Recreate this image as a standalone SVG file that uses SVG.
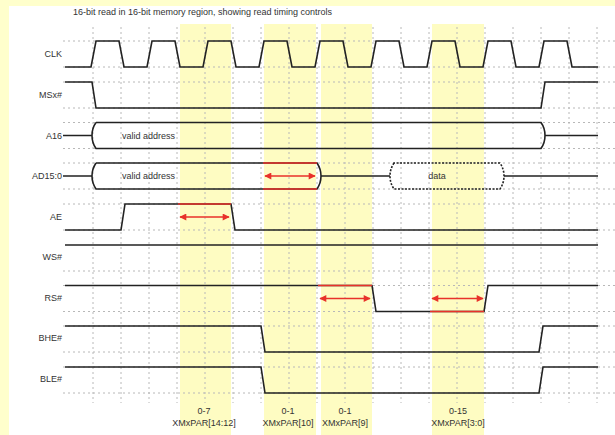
<svg xmlns="http://www.w3.org/2000/svg" width="615" height="435" viewBox="0 0 615 435">
<defs>
<style>
.lbl{font-family:"Liberation Sans",Arial,sans-serif;font-size:9px;fill:#333}
.end{text-anchor:end}
.mid{text-anchor:middle}
.sig{fill:none;stroke:#222;stroke-width:1.6;stroke-linejoin:miter}
.red{fill:none;stroke:#e8322a;stroke-width:1.6}
.arr{fill:none;stroke:#e8322a;stroke-width:1.6;marker-start:url(#ah);marker-end:url(#ah)}
.grid{fill:none;stroke:#b8b8b8;stroke-width:1;stroke-dasharray:2,3}
.band{fill:#fefcc2}
</style>
<marker id="ah" viewBox="0 0 10 10" refX="9" refY="5" markerWidth="9" markerHeight="7" markerUnits="userSpaceOnUse" orient="auto-start-reverse">
<path d="M0,0 L10,5 L0,10 Z" fill="#e8322a"/>
</marker>
</defs>
<rect x="0" y="0" width="615" height="435" fill="#ffffcc"/>
<rect x="9" y="6" width="606" height="429" fill="#ffffff"/>
<g id="bands">
<rect class="band" x="180" y="24" width="51" height="411"/>
<rect class="band" x="264" y="24" width="52" height="411"/>
<rect class="band" x="321" y="24" width="51" height="411"/>
<rect class="band" x="432" y="24" width="52" height="411"/>
</g>
<g id="grid">
<path class="grid" d="M93,27V403M121,27V403M149,27V403M177,27V403M205,27V403M233,27V403M261,27V403M289,27V403M317,27V403M345,27V403M373,27V403M401,27V403M429,27V403M457,27V403M485,27V403M513,27V403M541,27V403M569,27V403M597,27V403"/>
<path class="grid" d="M63,41H615M63,67H615M63,82H615M63,108H615M63,122.5H615M63,148.5H615M63,163H615M63,189H615M63,204H615M63,230H615M63,271H615M63,285.5H615M63,311.5H615M63,326H615M63,352H615M63,367H615M63,393H615"/>
</g>
<text class="lbl" x="73" y="15">16-bit read in 16-bit memory region, showing read timing controls</text>
<g id="CLK">
<text class="lbl end" x="62" y="57">CLK</text>
<path class="sig" d="M65,67 H91 L96,41 H119 L124,67 H147 L152,41 H175 L180,67 H203 L208,41 H231 L236,67 H259 L264,41 H287 L292,67 H315 L320,41 H343 L348,67 H371 L376,41 H399 L404,67 H427 L432,41 H455 L460,67 H483 L488,41 H511 L516,67 H539 L544,41 H567 L572,67 H598"/>
</g>
<g id="MSx">
<text class="lbl end" x="62" y="98">MSx#</text>
<path class="sig" d="M65,82 H92 L96,108 H541 L545,82 H598"/>
</g>
<g id="A16">
<text class="lbl end" x="62" y="138.5">A16</text>
<path class="sig" d="M63,135.5 H92 M96,122.5 Q92,128 92,135.5 Q92,143 96,148.5 H541 Q545,143 545,135.5 Q545,128 541,122.5 H96 M545,135.5 H598"/>
<text class="lbl" x="122" y="138.5">valid address</text>
</g>
<g id="AD15_0">
<text class="lbl end" x="62" y="179">AD15:0</text>
<path class="sig" d="M63,176 H92 M96,163 Q92,169 92,176 Q92,183 96,189 H317 Q321,183 321,176 Q321,169 317,163 H96 M321,176 H390 M504,176 H598"/>
<path class="sig" stroke-dasharray="2,1.5" d="M394,163 Q390,169 390,176 Q390,183 394,189 H500 Q504,183 504,176 Q504,169 500,163 Z"/>
<path class="red" d="M263,163 H317 M263,189 H317"/>
<text class="lbl" x="122" y="179">valid address</text>
<text class="lbl mid" x="437" y="179">data</text>
</g>
<g id="AE">
<text class="lbl end" x="62" y="220">AE</text>
<path class="sig" d="M65,230 H121 L125,204 H231 L235,230 H598"/>
<path class="red" d="M178,204 H231"/>
</g>
<g id="WS">
<text class="lbl end" x="62" y="260">WS#</text>
<path class="sig" d="M65,245 H598"/>
</g>
<g id="RS">
<text class="lbl end" x="62" y="301">RS#</text>
<path class="sig" d="M65,285.5 H372 L376,311.5 H484 L488,285.5 H598"/>
<path class="red" d="M318,285.5 H372 M430,311.5 H484"/>
</g>
<g id="BHE">
<text class="lbl end" x="62" y="341">BHE#</text>
<path class="sig" d="M65,326 H261 L265,352 H539 L543,326 H598"/>
</g>
<g id="BLE">
<text class="lbl end" x="62" y="382">BLE#</text>
<path class="sig" d="M65,367 H261 L265,393 H539 L543,367 H598"/>
</g>
<g id="connectors">
<line class="arr" x1="180" y1="217" x2="229" y2="217"/>
<line class="arr" x1="265" y1="176" x2="315" y2="176"/>
<line class="arr" x1="320" y1="298.5" x2="370" y2="298.5"/>
<line class="arr" x1="432" y1="298.5" x2="483" y2="298.5"/>
</g>
<g id="param-labels">
<text class="lbl mid" x="204" y="414">0-7</text>
<text class="lbl mid" x="204" y="426">XMxPAR[14:12]</text>
<text class="lbl mid" x="288" y="414">0-1</text>
<text class="lbl mid" x="288" y="426">XMxPAR[10]</text>
<text class="lbl mid" x="345" y="414">0-1</text>
<text class="lbl mid" x="345" y="426">XMxPAR[9]</text>
<text class="lbl mid" x="458" y="414">0-15</text>
<text class="lbl mid" x="458" y="426">XMxPAR[3:0]</text>
</g>
</svg>
